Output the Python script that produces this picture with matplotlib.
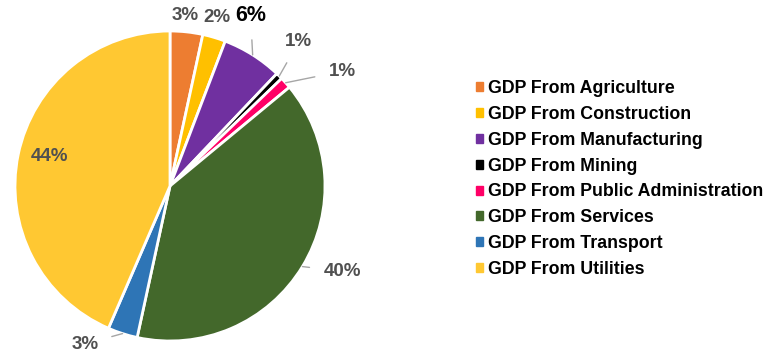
import matplotlib.pyplot as plt
import numpy as np

plt.rcParams['font.family'] = ['Liberation Sans', 'DejaVu Sans']

sectors = ['GDP From Agriculture', 'GDP From Construction', 'GDP From Manufacturing',
           'GDP From Mining', 'GDP From Public Administration', 'GDP From Services',
           'GDP From Transport', 'GDP From Utilities']
shares = [3.4, 2.4, 6.3, 0.7, 1.2, 39.4, 3.1, 43.5]
pct_labels = ['3%', '2%', '6%', '1%', '1%', '40%', '3%', '44%']
colors = ['#ED7D31', '#FFC000', '#7030A0', '#000000', '#FF0066', '#43682B', '#2E75B6', '#FFC832']

# where each percentage label sits (pie radius = 1)
label_pos = [(0.10, 1.10), (0.30, 1.09), (0.52, 1.10), (0.83, 0.93),
             (1.11, 0.74), (1.11, -0.55), (-0.55, -1.02), (-0.78, 0.19)]
leader = [False, False, True, True, True, True, True, False]

fig = plt.figure(figsize=(7.69, 3.54), dpi=100)
cx, cy, r = 170, 186, 155
W, H = 769, 354
ax = fig.add_axes([(cx - r) / W, (H - cy - r) / H, 2 * r / W, 2 * r / H])

wedges, _ = ax.pie(shares, colors=colors, startangle=90, counterclock=False,
                   radius=1, wedgeprops=dict(edgecolor='white', linewidth=2))
ax.set_xlim(-1, 1)
ax.set_ylim(-1, 1)
ax.set_aspect('equal')
ax.axis('off')

for w, lab, pos, ld in zip(wedges, pct_labels, label_pos, leader):
    ang = np.deg2rad((w.theta1 + w.theta2) / 2)
    edge = (np.cos(ang) * 1.0, np.sin(ang) * 1.0)
    big = lab == '6%'
    kw = dict(fontsize=15.5 if big else 13.5, fontweight='bold',
              color='black' if big else '#505050', ha='center', va='center')
    if ld:
        ax.annotate(lab, xy=edge, xytext=pos, annotation_clip=False,
                    arrowprops=dict(arrowstyle='-', color='#A6A6A6', lw=1,
                                    shrinkA=8, shrinkB=0), **kw)
    else:
        ax.text(pos[0], pos[1], lab, clip_on=False, **kw)

handles = [plt.Rectangle((0, 0), 1, 1, color=c) for c in colors]
fig.legend(handles, sectors, loc='center left', bbox_to_anchor=(476 / W, 1 - 179 / H),
           frameon=False, prop=dict(size=12.8, weight='bold'),
           handlelength=0.4, handleheight=0.4, handletextpad=0.3,
           labelspacing=0.5, borderpad=0, borderaxespad=0)

fig.savefig('out.png', dpi=100)
